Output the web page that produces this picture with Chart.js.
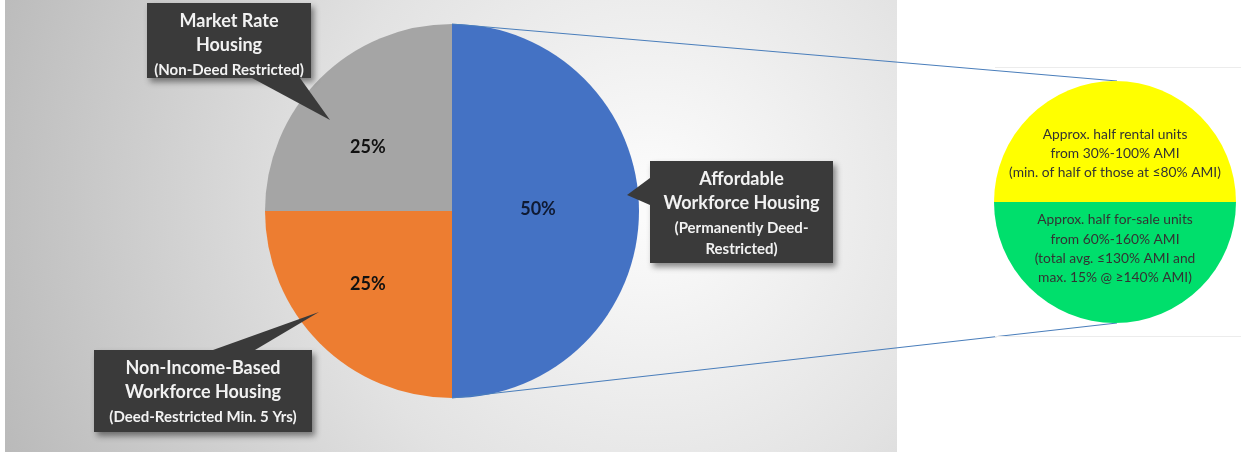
<!DOCTYPE html>
<html>
<head>
<meta charset="utf-8">
<script src="https://cdn.jsdelivr.net/npm/chart.js@4"></script>
<style>
  html, body { margin: 0; padding: 0; background: #ffffff; }
  #wrap { position: relative; width: 1241px; height: 455px; overflow: hidden; }
  #mainChart { position: absolute; left: 0; top: 0; }
  #splitChart { position: absolute; left: 980px; top: 50px; }
</style>
</head>
<body>
<div id="wrap">
  <canvas id="mainChart" width="1241" height="455"></canvas>
  <canvas id="splitChart" width="261" height="300"></canvas>
</div>
<script>
// ------------------------------------------------------------
// Data
// ------------------------------------------------------------
const mainLabels = [
  "Affordable Workforce Housing",
  "Non-Income-Based Workforce Housing",
  "Market Rate Housing",
];
const mainValues = [50, 25, 25];
const mainColors = ["#4472C4", "#ED7D31", "#A5A5A5"];

// callout text, one entry per slice (same order as mainLabels)
const calloutTitles = [
  ["Affordable", "Workforce Housing"],
  ["Non-Income-Based", "Workforce Housing"],
  ["Market Rate", "Housing"],
];
const calloutNotes = [
  ["(Permanently Deed-", "Restricted)"],
  ["(Deed-Restricted Min. 5 Yrs)"],
  ["(Non-Deed Restricted)"],
];

// breakdown of the affordable slice
const splitLabels = ["Rental units", "For-sale units"];
const splitValues = [50, 50];
const splitColors = ["#FFFF00", "#00DF6C"];
const splitTexts = [
  ["Approx. half rental units", "from 30%-100% AMI", "(min. of half of those at \u226480% AMI)"],
  ["Approx. half for-sale units", "from 60%-160% AMI", "(total avg. \u2264130% AMI and", "max. 15% @ \u2265140% AMI)"],
];

// ------------------------------------------------------------
// Layout helpers (style only)
// ------------------------------------------------------------
// label offsets inside slices, as fraction of radius
const pctOffsets = [[0.46, -0.01], [-0.45, 0.39], [-0.45, -0.34]];
// callout boxes: [left, top, right, bottom], pointer base points + tip
const calloutBoxes = [
  { box: [650, 161, 833, 263], ptr: [[650, 178], [627, 195], [650, 205]] },
  { box: [94, 350, 312, 432], ptr: [[213, 350], [319, 312], [255, 350]] },
  { box: [147, 3, 311, 78], ptr: [[252, 78], [330, 120], [300, 78]] },
];

// ------------------------------------------------------------
// Breakdown pie (right)
// ------------------------------------------------------------
const splitTextPlugin = {
  id: "splitText",
  beforeDraw(chart) {
    const c = chart.ctx;
    c.save();
    c.strokeStyle = "#ececec";
    c.lineWidth = 1;
    c.beginPath();
    c.moveTo(15, 17.5); c.lineTo(261, 17.5);
    c.moveTo(15, 286.5); c.lineTo(261, 286.5);
    c.stroke();
    c.restore();
  },
  afterDraw(chart) {
    const c = chart.ctx;
    const arc = chart.getDatasetMeta(0).data[0];
    c.save();
    c.fillStyle = "#333333";
    c.font = "13.8px Lato, 'Open Sans', sans-serif";
    c.textAlign = "center";
    c.textBaseline = "middle";
    splitTexts[0].forEach((t, i) => c.fillText(t, arc.x, arc.y - 67 + i * 19));
    splitTexts[1].forEach((t, i) => c.fillText(t, arc.x, arc.y + 18 + i * 19.3));
    c.restore();
  },
};

const splitChart = new Chart(document.getElementById("splitChart"), {
  type: "pie",
  data: {
    labels: splitLabels,
    datasets: [{ data: splitValues, backgroundColor: splitColors, borderWidth: 0 }],
  },
  options: {
    responsive: false,
    animation: false,
    rotation: -90,
    layout: { padding: { left: 14, right: 5, top: 31, bottom: 27 } },
    plugins: { legend: { display: false }, tooltip: { enabled: false } },
  },
  plugins: [splitTextPlugin],
});

// ------------------------------------------------------------
// Main pie plugin: background, connectors, labels, callouts
// ------------------------------------------------------------
function drawCallout(c, cfg, titles, notes) {
  const [l, t, r, b] = cfg.box;
  c.save();
  c.fillStyle = "#3a3a3a";
  c.shadowColor = "rgba(0,0,0,0.45)";
  c.shadowBlur = 6;
  c.shadowOffsetX = 3;
  c.shadowOffsetY = 4;
  c.beginPath();
  c.rect(l, t, r - l, b - t);
  c.fill();
  c.shadowColor = "transparent";
  c.beginPath();
  c.moveTo(cfg.ptr[0][0], cfg.ptr[0][1]);
  c.lineTo(cfg.ptr[1][0], cfg.ptr[1][1]);
  c.lineTo(cfg.ptr[2][0], cfg.ptr[2][1]);
  c.closePath();
  c.fill();
  c.restore();

  c.save();
  c.fillStyle = "#f2f2f2";
  c.textAlign = "center";
  c.textBaseline = "middle";
  const cx = (l + r) / 2;
  let y = t + 18;
  c.font = "bold 18px Lato, 'Open Sans', sans-serif";
  titles.forEach((s, i) => { c.fillText(s, cx, y); y += i < titles.length - 1 ? 24 : 25; });
  c.font = "bold 15px Lato, 'Open Sans', sans-serif";
  notes.forEach((s) => { c.fillText(s, cx, y); y += 21; });
  c.restore();
}

const mainPlugin = {
  id: "mainDecor",
  beforeDraw(chart) {
    const c = chart.ctx;
    const g = c.createRadialGradient(650, 200, 20, 650, 200, 700);
    g.addColorStop(0, "#fbfbfb");
    g.addColorStop(0.45, "#e2e2e2");
    g.addColorStop(1, "#b9b9b9");
    c.save();
    c.fillStyle = g;
    c.fillRect(5, 0, 892, 452);
    c.restore();
  },
  afterDraw(chart) {
    const c = chart.ctx;
    const meta = chart.getDatasetMeta(0);
    const a0 = meta.data[0];

    // connector lines to the breakdown pie
    const sArc = splitChart.getDatasetMeta(0).data[0];
    const sx = 980 + sArc.x;
    const sy = 50 + sArc.y;
    c.save();
    c.strokeStyle = "#4A7EBB";
    c.lineWidth = 1.2;
    c.beginPath();
    c.moveTo(a0.x, a0.y - a0.outerRadius);
    c.lineTo(sx + 2, sy - sArc.outerRadius);
    c.moveTo(a0.x, a0.y + a0.outerRadius);
    c.lineTo(sx + 2, sy + sArc.outerRadius);
    c.stroke();
    c.restore();

    // percentage labels
    const total = mainValues.reduce((p, v) => p + v, 0);
    c.save();
    c.font = "bold 18px Lato, 'Open Sans', sans-serif";
    c.textAlign = "center";
    c.textBaseline = "middle";
    meta.data.forEach((arc, i) => {
      const pct = Math.round((mainValues[i] / total) * 100) + "%";
      c.fillStyle = i === 0 ? "#0f1a33" : "#111111";
      c.fillText(pct, arc.x + pctOffsets[i][0] * arc.outerRadius, arc.y + pctOffsets[i][1] * arc.outerRadius);
    });
    c.restore();

    // callouts
    calloutBoxes.forEach((cfg, i) => drawCallout(c, cfg, calloutTitles[i], calloutNotes[i]));
  },
};

new Chart(document.getElementById("mainChart"), {
  type: "pie",
  data: {
    labels: mainLabels,
    datasets: [{ data: mainValues, backgroundColor: mainColors, borderWidth: 0 }],
  },
  options: {
    responsive: false,
    animation: false,
    layout: { padding: { left: 265, right: 602, top: 24, bottom: 57 } },
    plugins: { legend: { display: false }, tooltip: { enabled: false } },
  },
  plugins: [mainPlugin],
});
</script>
</body>
</html>
